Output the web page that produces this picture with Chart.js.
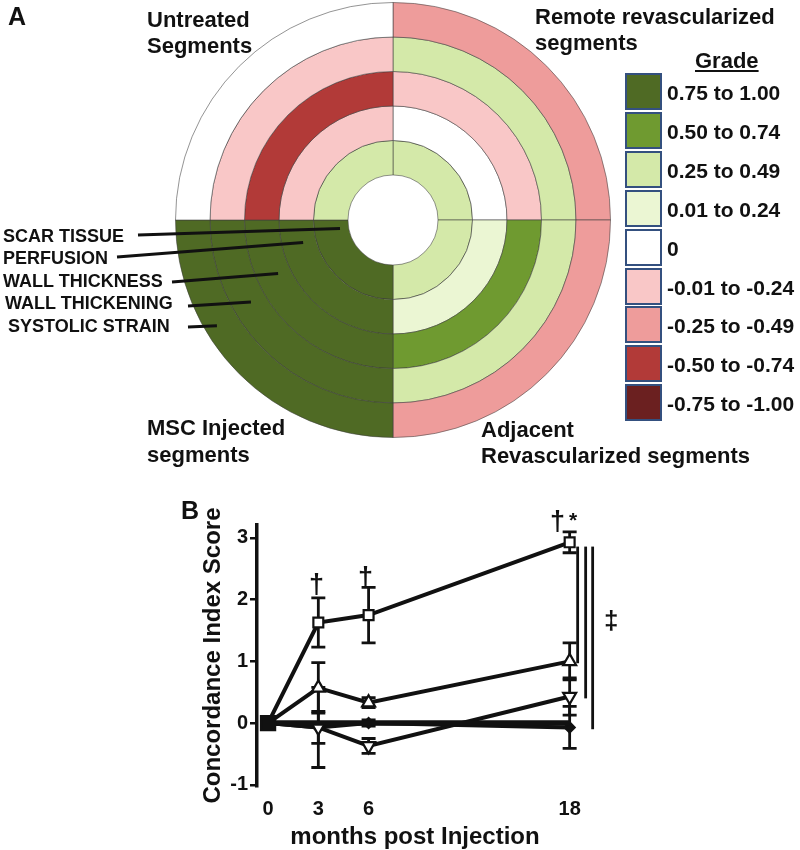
<!DOCTYPE html>
<html>
<head>
<meta charset="utf-8">
<script src="https://cdn.jsdelivr.net/npm/chart.js@4.4.0/dist/chart.umd.min.js"></script>
<style>
  body { margin: 0; background: #fff; }
  #wrap { position: relative; width: 800px; height: 850px; font-family: "Liberation Sans", Arial, sans-serif; font-weight: bold; color: #111; }
  canvas { position: absolute; }
  .t { position: absolute; white-space: nowrap; transform: translateY(-50%); line-height: 1; }
  .q { font-size: 22px; }
  .ring { font-size: 18px; }
  .box { position: absolute; width: 33px; height: 33px; border: 2px solid #34507f; box-sizing: content-box; }
</style>
</head>
<body>
<div id="wrap">
  <canvas id="ringChart" width="800" height="470" style="left:0;top:0"></canvas>
  <canvas id="lineChart" width="480" height="370" style="left:170px;top:480px"></canvas>

  <div class="t" style="left:8px;top:16px;font-size:25px">A</div>
  <div class="t" style="left:181px;top:510px;font-size:25px">B</div>

  <div class="t q" style="left:147px;top:20px">Untreated</div>
  <div class="t q" style="left:147px;top:46px">Segments</div>
  <div class="t q" style="left:535px;top:17px">Remote revascularized</div>
  <div class="t q" style="left:535px;top:43px">segments</div>
  <div class="t q" style="left:147px;top:428px">MSC Injected</div>
  <div class="t q" style="left:147px;top:455px">segments</div>
  <div class="t q" style="left:481px;top:430px">Adjacent</div>
  <div class="t q" style="left:481px;top:456px">Revascularized segments</div>

  <div class="t ring" style="left:3px;top:236px">SCAR TISSUE</div>
  <div class="t ring" style="left:3px;top:258px">PERFUSION</div>
  <div class="t ring" style="left:3px;top:281px">WALL THICKNESS</div>
  <div class="t ring" style="left:5px;top:303px">WALL THICKENING</div>
  <div class="t ring" style="left:8px;top:326px">SYSTOLIC STRAIN</div>

  <div class="t q" style="left:695px;top:61px;text-decoration:underline">Grade</div>
  <div id="gradeLegend"></div>

  <div class="t" style="left:309px;top:584px;font-size:27px">†</div>
  <div class="t" style="left:358px;top:577px;font-size:27px">†</div>
  <div class="t" style="left:550px;top:521px;font-size:27px">†</div>
  <div class="t" style="left:569px;top:519px;font-size:21px">*</div>
  <div class="t" style="left:604px;top:620px;font-size:26px">‡</div>
</div>

<script>
// --- Panel A: grade per segment group (clockwise from 12 o'clock) ---
const quadrants = ['Remote revascularized', 'Adjacent revascularized', 'MSC injected', 'Untreated'];
const quadrantShare = [1, 1, 1, 1];
const scarTissue     = [0.35, 0.35, 0.85, 0.35];
const perfusion      = [0, 0.12, 0.85, -0.12];
const wallThickness  = [-0.12, 0.6, 0.85, -0.6];
const wallThickening = [0.35, 0.35, 0.85, -0.12];
const systolicStrain = [-0.35, -0.35, 0.85, 0];

const gradeLabels = ['0.75 to 1.00', '0.50 to 0.74', '0.25 to 0.49', '0.01 to 0.24', '0',
                     '-0.01 to -0.24', '-0.25 to -0.49', '-0.50 to -0.74', '-0.75 to -1.00'];
const gradeColors = ['#4f6a24', '#6f9a30', '#d4e9a9', '#ebf6d3', '#ffffff',
                     '#f9c7c7', '#ee9c9b', '#b23a38', '#6b2020'];

// --- Panel B: concordance index score ---
const months = [0, 3, 6, 18];
const yTicks = [-1, 0, 1, 2, 3];
const mscScore = [0, 1.63, 1.75, 2.93];
const mscErr = [0, 0.40, 0.45, 0.17];
const adjScore = [0, 0.57, 0.33, 1.0];
const adjErr = [0, 0.41, 0.08, 0.30];
const remoteScore = [0, -0.07, -0.37, 0.43];
const remoteErr = [0, 0.26, 0.12, 0.30];
const untreatedScore = [0, -0.07, 0, -0.07];
const untreatedErr = [0, 0.65, 0.05, 0.34];
const baseline = [0, 0, 0, 0];

const font = '"Liberation Sans", Arial, sans-serif';

function gradeIndex(v) {
    if (v >= 0.75) return 0;
    if (v >= 0.5) return 1;
    if (v >= 0.25) return 2;
    if (v > 0) return 3;
    if (v === 0) return 4;
    if (v > -0.25) return 5;
    if (v > -0.5) return 6;
    if (v > -0.75) return 7;
    return 8;
}

// legend boxes
const legendDiv = document.getElementById('gradeLegend');
gradeLabels.forEach((lab, i) => {
    const top = 73 + i * 38.9;
    const b = document.createElement('div');
    b.className = 'box';
    b.style.left = '625px';
    b.style.top = top + 'px';
    b.style.background = gradeColors[i];
    legendDiv.appendChild(b);
    const t = document.createElement('div');
    t.className = 't';
    t.style.left = '667px';
    t.style.top = (top + 19) + 'px';
    t.style.fontSize = '21px';
    t.textContent = lab;
    legendDiv.appendChild(t);
});

// rings, outermost first (Chart.js draws dataset 0 outside)
const rings = [systolicStrain, wallThickening, wallThickness, perfusion, scarTissue];

// leader lines: label end -> point inside the MSC ring (inner to outer)
const leaderStart = [[138, 235], [117, 257], [172, 282], [188, 306], [188, 327]];
const leaderAngle = [171, 166, 155, 150, 149];
const leaderFrac = [0.25, 0.38, 0.37, 0.45, 0.65];

const leaderLines = {
    id: 'leaderLines',
    afterDraw(chart) {
        const ctx = chart.ctx;
        ctx.save();
        ctx.strokeStyle = '#111';
        ctx.lineWidth = 3;
        leaderStart.forEach((s, k) => {
            const meta = chart.getDatasetMeta(rings.length - 1 - k);
            const arc = meta.data[2];
            const r = arc.innerRadius + leaderFrac[k] * (arc.outerRadius - arc.innerRadius);
            const a = leaderAngle[k] * Math.PI / 180;
            ctx.beginPath();
            ctx.moveTo(s[0], s[1]);
            ctx.lineTo(arc.x + r * Math.cos(a), arc.y + r * Math.sin(a));
            ctx.stroke();
        });
        ctx.restore();
    }
};

new Chart(document.getElementById('ringChart'), {
    type: 'doughnut',
    data: {
        labels: quadrants,
        datasets: rings.map(vals => ({
            data: quadrantShare,
            backgroundColor: vals.map(v => gradeColors[gradeIndex(v)]),
            borderColor: 'rgba(60,60,60,0.55)',
            borderWidth: 1
        }))
    },
    options: {
        responsive: false,
        animation: false,
        cutout: '20.7%',
        layout: { padding: { left: 175, top: 2, right: 189, bottom: 32 } },
        plugins: { legend: { display: false }, tooltip: { enabled: false } }
    },
    plugins: [leaderLines]
});

// --- Panel B ---
const errs = [mscErr, adjErr, remoteErr, untreatedErr];

const errorBars = {
    id: 'errorBars',
    beforeDatasetsDraw(chart) {
        const {ctx, scales: {x, y}} = chart;
        ctx.save();
        ctx.strokeStyle = '#111';
        ctx.lineWidth = 2.8;
        errs.forEach((err, d) => {
            const pts = chart.data.datasets[d].data;
            pts.forEach((p, i) => {
                if (!err[i]) return;
                const px = x.getPixelForValue(p.x);
                const top = y.getPixelForValue(p.y + err[i]);
                const bot = y.getPixelForValue(p.y - err[i]);
                ctx.beginPath();
                ctx.moveTo(px, top); ctx.lineTo(px, bot);
                ctx.moveTo(px - 7, top); ctx.lineTo(px + 7, top);
                ctx.moveTo(px - 7, bot); ctx.lineTo(px + 7, bot);
                ctx.stroke();
            });
        });
        ctx.restore();
    }
};

// significance bars at 18 months: MSC vs adjacent, remote, untreated
const sigTargets = [adjScore, remoteScore, untreatedScore];
const sigOffset = [8, 16, 23];

const sigBars = {
    id: 'sigBars',
    afterDraw(chart) {
        const {ctx, scales: {x, y}} = chart;
        const last = months.length - 1;
        const px = x.getPixelForValue(months[last]);
        ctx.save();
        ctx.strokeStyle = '#111';
        ctx.lineWidth = 2.8;
        sigTargets.forEach((t, k) => {
            ctx.beginPath();
            ctx.moveTo(px + sigOffset[k], y.getPixelForValue(mscScore[last] - 0.07));
            ctx.lineTo(px + sigOffset[k], y.getPixelForValue(t[last] - 0.03));
            ctx.stroke();
        });
        ctx.restore();
    }
};

function series(values, style, rotation, fill, radius, width, order) {
    return {
        data: months.map((m, i) => ({ x: m, y: values[i] })),
        borderColor: '#111',
        borderWidth: width,
        pointStyle: style,
        pointRotation: rotation,
        pointRadius: radius,
        pointBackgroundColor: fill,
        pointBorderColor: '#111',
        pointBorderWidth: 2.2,
        clip: false,
        tension: 0,
        order: order
    };
}

new Chart(document.getElementById('lineChart'), {
    type: 'line',
    data: {
        datasets: [
            series(mscScore, 'rect', 0, '#fff', [0, 7, 7, 7], 4, 0),
            series(adjScore, 'triangle', 0, '#fff', [0, 7.5, 7.5, 7.5], 4, 0),
            series(remoteScore, 'triangle', 180, '#fff', [0, 7.5, 7.5, 7.5], 4, 0),
            series(untreatedScore, 'rectRot', 0, '#111', [0, 5, 5, 5], 4, 0),
            series(baseline, 'rect', 0, '#111', [10, 0, 0, 0], 5.5, -1)
        ]
    },
    options: {
        responsive: false,
        animation: false,
        layout: { padding: { left: 0, top: 45, right: 77, bottom: 0 } },
        plugins: { legend: { display: false }, tooltip: { enabled: false } },
        scales: {
            x: {
                type: 'linear',
                min: -0.66,
                max: 18.2,
                afterBuildTicks: s => { s.ticks = months.map(v => ({ value: v })); },
                afterFit: s => { s.height = 64; },
                grid: { display: false, drawTicks: false },
                border: { display: false },
                ticks: { color: '#111', font: { family: font, size: 20, weight: 'bold' }, padding: 11, maxRotation: 0, autoSkip: false },
                title: { display: true, text: 'months post Injection', color: '#111',
                         font: { family: font, size: 24, weight: 'bold', lineHeight: 1 }, padding: { top: 0, bottom: 1 } }
            },
            y: {
                min: -1.02,
                max: 3.21,
                afterBuildTicks: s => { s.ticks = yTicks.map(v => ({ value: v })); },
                afterFit: s => { s.width = 87; },
                grid: { drawOnChartArea: false, drawTicks: true, tickLength: 7, color: '#111', lineWidth: 2.5 },
                border: { display: true, color: '#111', width: 3.5 },
                ticks: { color: '#111', font: { family: font, size: 20, weight: 'bold' }, padding: 2 },
                title: { display: true, text: 'Concordance Index Score', color: '#111',
                         font: { family: font, size: 24, weight: 'bold', lineHeight: 1.2 }, padding: { top: 28.6, bottom: 0 } }
            }
        }
    },
    plugins: [errorBars, sigBars]
});
</script>
</body>
</html>
